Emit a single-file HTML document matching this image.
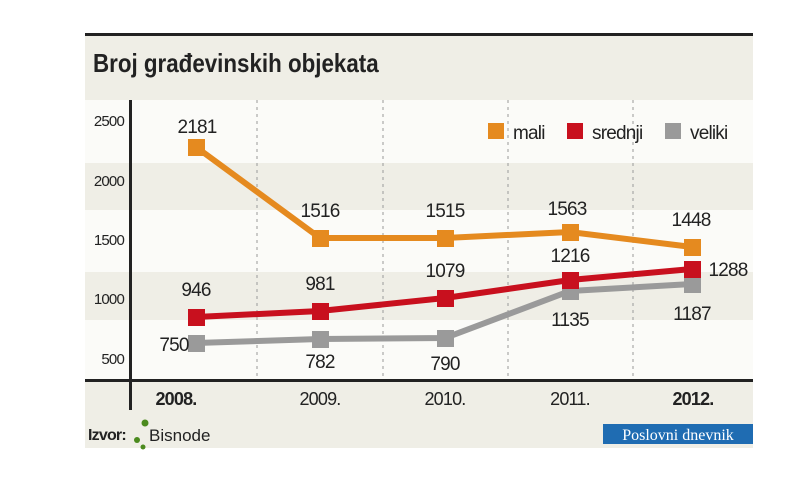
<!DOCTYPE html><html><head><meta charset="utf-8"><style>
body{margin:0;background:#fff;width:800px;height:480px;overflow:hidden}
svg text{font-family:"Liberation Sans",sans-serif}
.n{letter-spacing:-0.8px}
</style></head><body>
<svg width="800" height="480" xmlns="http://www.w3.org/2000/svg">
<rect x="0" y="0" width="800" height="480" fill="#fff"/>
<rect x="85" y="35" width="668" height="413" fill="#efeee6"/>
<rect x="85" y="100" width="668" height="63" fill="#fbfbf8"/>
<rect x="85" y="210" width="668" height="62" fill="#fbfbf8"/>
<rect x="85" y="320" width="668" height="60" fill="#fbfbf8"/>
<rect x="85" y="33" width="668" height="3" fill="#222"/>
<text x="93" y="72" font-size="26" font-weight="bold" fill="#222" transform="translate(93 0) scale(0.86 1) translate(-93 0)">Broj građevinskih objekata</text>
<g stroke="#999" stroke-width="1" stroke-dasharray="3,4">
<line x1="257" y1="100" x2="257" y2="380"/><line x1="383" y1="100" x2="383" y2="380"/>
<line x1="508" y1="100" x2="508" y2="380"/><line x1="633" y1="100" x2="633" y2="380"/>
</g>
<rect x="129" y="100" width="3" height="310" fill="#222"/>
<rect x="85" y="379" width="668" height="3" fill="#222"/>
<g font-size="15" fill="#222" text-anchor="end" class="n">
<text x="124" y="126">2500</text><text x="124" y="186">2000</text><text x="124" y="245">1500</text><text x="124" y="304">1000</text><text x="124" y="364">500</text>
</g>
<g font-size="18" fill="#222" text-anchor="middle" class="n">
<text x="176" y="405" font-weight="bold">2008.</text><text x="320" y="405">2009.</text><text x="445" y="405">2010.</text><text x="570" y="405">2011.</text><text x="693" y="405" font-weight="bold">2012.</text>
</g>
<polyline points="196,147 320,238 445,238 570,232 692,247" fill="none" stroke="#e58a1f" stroke-width="6"/>
<polyline points="196,343 320,339 445,338 570,291 692,284" fill="none" stroke="#9a9a9a" stroke-width="6"/>
<polyline points="196,317 320,311 445,298 570,280 692,269" fill="none" stroke="#c8101e" stroke-width="6"/>
<g fill="#e58a1f"><rect x="188" y="139" width="17" height="17"/><rect x="312" y="230" width="17" height="17"/><rect x="437" y="230" width="17" height="17"/><rect x="562" y="224" width="17" height="17"/><rect x="684" y="239" width="17" height="17"/></g>
<g fill="#9a9a9a"><rect x="188" y="335" width="17" height="17"/><rect x="312" y="331" width="17" height="17"/><rect x="437" y="330" width="17" height="17"/><rect x="562" y="283" width="17" height="17"/><rect x="684" y="276" width="17" height="17"/></g>
<g fill="#c8101e"><rect x="188" y="309" width="17" height="17"/><rect x="312" y="303" width="17" height="17"/><rect x="437" y="290" width="17" height="17"/><rect x="562" y="272" width="17" height="17"/><rect x="684" y="261" width="17" height="17"/></g>
<g font-size="19" fill="#222" text-anchor="middle" class="n">
<text x="197" y="133">2181</text><text x="320" y="217">1516</text><text x="445" y="217">1515</text><text x="567" y="215">1563</text><text x="691" y="226">1448</text>
<text x="196" y="296">946</text><text x="320" y="290">981</text><text x="445" y="277">1079</text><text x="570" y="262">1216</text><text x="728" y="276">1288</text>
<text x="174" y="351">750</text><text x="320" y="368">782</text><text x="445" y="370">790</text><text x="570" y="326">1135</text><text x="692" y="320">1187</text>
</g>
<rect x="488" y="123" width="16" height="16" fill="#e58a1f"/><text x="513" y="139" font-size="19" fill="#222" class="n">mali</text>
<rect x="567" y="123" width="16" height="16" fill="#c8101e"/><text x="592" y="139" font-size="19" fill="#222" class="n">srednji</text>
<rect x="665" y="123" width="16" height="16" fill="#9a9a9a"/><text x="690" y="139" font-size="19" fill="#222" class="n">veliki</text>
<text x="88" y="440" font-size="16" font-weight="bold" fill="#222" class="n">Izvor:</text>
<circle cx="145" cy="423" r="3.5" fill="#4b8a1e"/><circle cx="137" cy="440" r="3" fill="#4b8a1e"/><circle cx="143" cy="447" r="2.5" fill="#4b8a1e"/>
<text x="149" y="441" font-size="17" fill="#222">Bisnode</text>
<rect x="603" y="424" width="150" height="20" fill="#1f6cb2"/>
<text x="678" y="440" font-size="16" fill="#fff" text-anchor="middle" font-family="Liberation Serif" style="font-family:'Liberation Serif',serif">Poslovni dnevnik</text>
</svg></body></html>
